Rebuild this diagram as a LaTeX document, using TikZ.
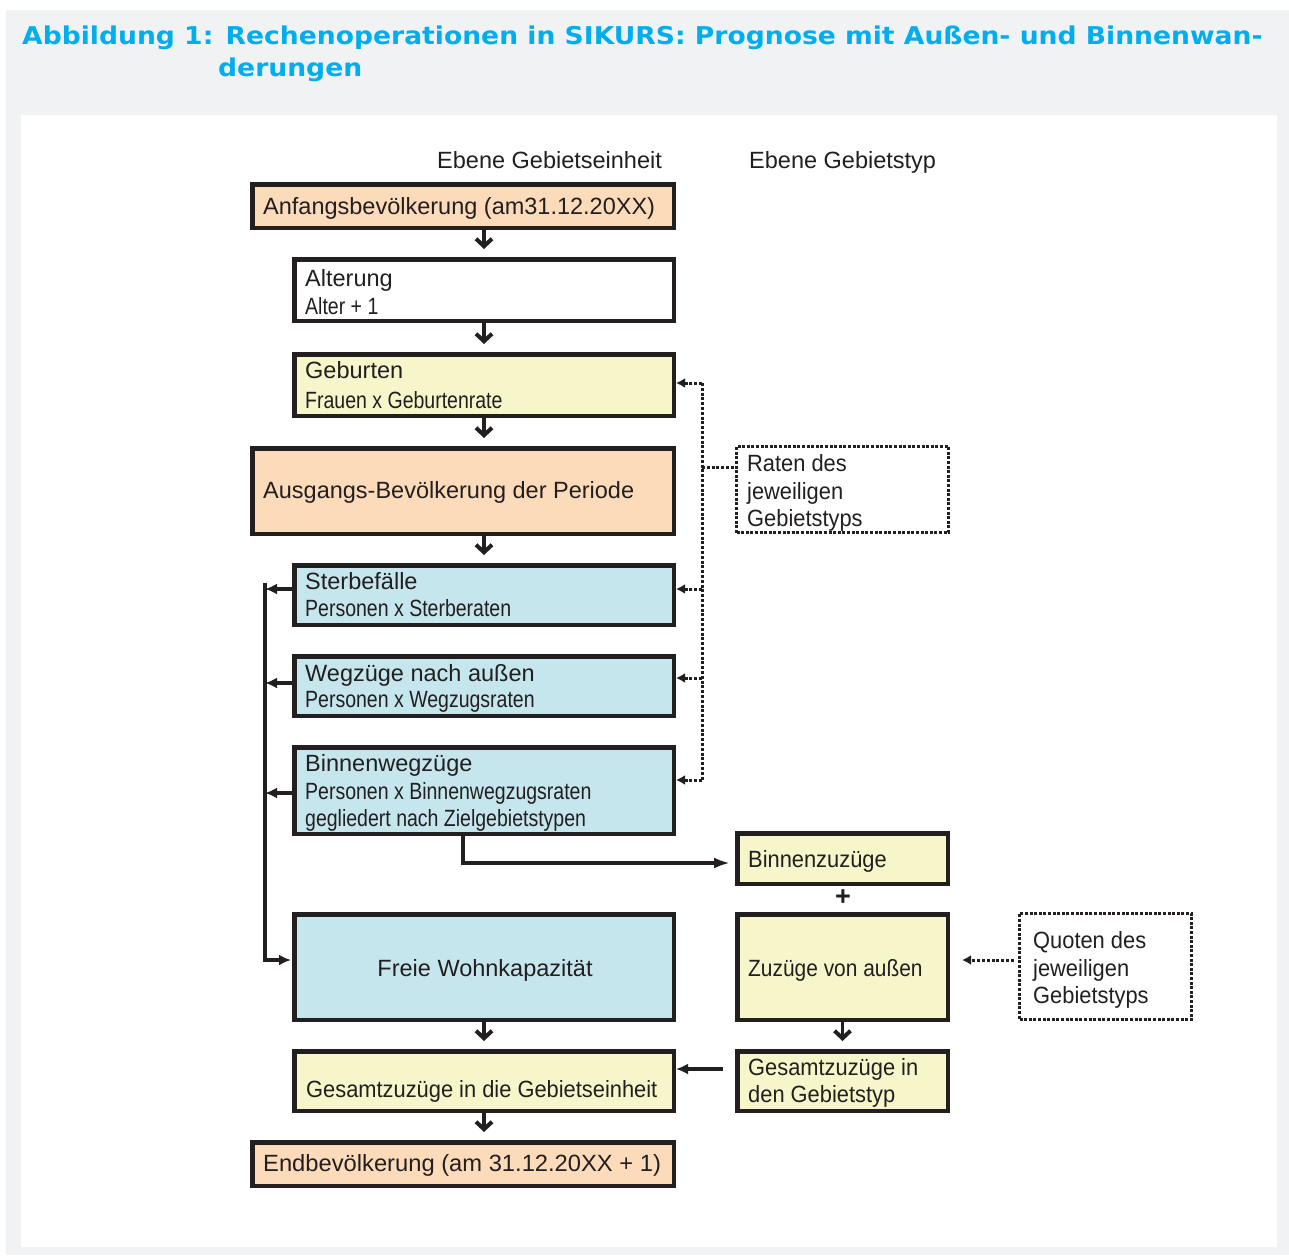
\documentclass[tikz,border=0pt]{standalone}
\usepackage{fontspec}
\usepackage{graphicx}
\setmainfont{Liberation Sans}
\newfontfamily\titlefont{DejaVu Sans}[FakeStretch=1.085]
\usetikzlibrary{arrows.meta}
\definecolor{ink}{RGB}{35,31,32}
\definecolor{peach}{RGB}{252,219,186}
\definecolor{paleyellow}{RGB}{247,246,203}
\definecolor{paleblue}{RGB}{196,230,236}
\definecolor{titlecyan}{RGB}{0,174,239}
\definecolor{panelgray}{RGB}{241,242,244}
\newcommand{\subtxt}[1]{\scalebox{0.83}[1]{#1}}
\newcommand{\cond}[1]{\scalebox{0.93}[1]{#1}}
\tikzset{
  box/.style={draw=ink, line width=4.5pt, rectangle, inner sep=0pt},
  dbox/.style={draw=ink, line width=3.5pt, rectangle, inner sep=0pt, dash pattern=on 3pt off 1.6pt, fill=white},
  txt/.style={anchor=base west, inner sep=0pt, text=ink, font=\fontsize{23.5}{28}\selectfont},
  ctxt/.style={anchor=base, inner sep=0pt, text=ink, font=\fontsize{23.5}{28}\selectfont},
  ttl/.style={anchor=base west, inner sep=0pt, text=titlecyan, font=\titlefont\bfseries\fontsize{24.5}{30}\selectfont},
  varrow/.style={draw=ink, line width=3.5pt, -{Straight Barb[length=7.5pt,width=16pt,line width=4pt]}, shorten >=8pt},
  sarrow/.style={draw=ink, line width=3.2pt, -{Latex[length=12pt,width=11pt]}},
  sline/.style={draw=ink, line width=3.2pt},
  dline/.style={draw=ink, line width=3pt, dash pattern=on 3pt off 1.8pt},
  darrow/.style={dline, -{Latex[length=9pt,width=10pt]}}
}
\begin{document}
\begin{tikzpicture}[x=1pt,y=-1pt]
\useasboundingbox (0,0) rectangle (1289,1255);
\fill[panelgray] (6,10) rectangle (1289,1255);
\fill[white] (21,115) rectangle (1277,1247);

% title
\node[ttl] (title1) at (22,45) {Abbildung 1: Rechenoperationen in SIKURS: Prognose mit Außen- und Binnenwan-};
\node[ttl] (title2) at (218,77) {derungen};

% column headings
\node[txt] (h1) at (437,168) {Ebene Gebietseinheit};
\node[txt] (h2) at (749,168) {Ebene Gebietstyp};

% left column boxes
\node[box, fill=peach, minimum width=421.5pt, minimum height=43.5pt] (anf) at (463,206) {};
\node[box, fill=white, minimum width=379.5pt, minimum height=61.5pt] (alt) at (484,290) {};
\node[box, fill=paleyellow, minimum width=379.5pt, minimum height=61.5pt] (geb) at (484,385) {};
\node[box, fill=peach, minimum width=421.5pt, minimum height=85.5pt] (aus) at (463,491) {};
\node[box, fill=paleblue, minimum width=379.5pt, minimum height=59.5pt] (ster) at (484,595) {};
\node[box, fill=paleblue, minimum width=379.5pt, minimum height=59.5pt] (weg) at (484,686) {};
\node[box, fill=paleblue, minimum width=379.5pt, minimum height=86.5pt] (binw) at (484,790.5) {};
\node[box, fill=paleblue, minimum width=379.5pt, minimum height=105.5pt] (frei) at (484,967) {};
\node[box, fill=paleyellow, minimum width=379.5pt, minimum height=59.5pt] (gese) at (484,1081) {};
\node[box, fill=peach, minimum width=421.5pt, minimum height=43.5pt] (endb) at (463,1164) {};

% right column boxes
\node[dbox, minimum width=212pt, minimum height=86pt] (raten) at (842.5,489.5) {};
\node[box, fill=paleyellow, minimum width=210.5pt, minimum height=50.5pt] (binz) at (842.5,858.5) {};
\node[box, fill=paleyellow, minimum width=210.5pt, minimum height=105.5pt] (zuz) at (842.5,967) {};
\node[box, fill=paleyellow, minimum width=210.5pt, minimum height=59.5pt] (gest) at (842.5,1081) {};
\node[dbox, minimum width=172pt, minimum height=106pt] (quot) at (1105.5,966.5) {};

% texts
\node[txt] (anf-t) at (263,214) {Anfangsbevölkerung (am31.12.20XX)};
\node[txt] (alt-t) at (305,286) {Alterung};
\node[txt] (alt-s) at (305,314) {\subtxt{Alter + 1}};
\node[txt] (geb-t) at (305,378) {Geburten};
\node[txt] (geb-s) at (305,408) {\subtxt{Frauen x Geburtenrate}};
\node[txt] (aus-t) at (263,498) {Ausgangs-Bevölkerung der Periode};
\node[txt] (ster-t) at (305,589) {Sterbefälle};
\node[txt] (ster-s) at (305,616) {\subtxt{Personen x Sterberaten}};
\node[txt] (weg-t) at (305,681) {Wegzüge nach außen};
\node[txt] (weg-s) at (305,707) {\subtxt{Personen x Wegzugsraten}};
\node[txt] (binw-t) at (305,771) {Binnenwegzüge};
\node[txt] (binw-s) at (305,799) {\subtxt{Personen x Binnenwegzugsraten}};
\node[txt] (binw-u) at (305,826) {\subtxt{gegliedert nach Zielgebietstypen}};
\node[ctxt] (frei-t) at (485,976) {Freie Wohnkapazität};
\node[txt] (gese-t) at (306,1097) {\cond{Gesamtzuzüge in die Gebietseinheit}};
\node[txt] (endb-t) at (263,1171) {\scalebox{1.01}[1]{Endbevölkerung (am 31.12.20XX + 1)}};

\node[txt] (raten-1) at (747,471) {\cond{Raten des}};
\node[txt] (raten-2) at (747,499) {\cond{jeweiligen}};
\node[txt] (raten-3) at (747,526) {\cond{Gebietstyps}};
\node[txt] (binz-t) at (748,867) {\cond{Binnenzuzüge}};
\node[inner sep=0pt, text=ink, font=\bfseries\fontsize{27}{30}\selectfont] (plus) at (843,898) {+};
\node[txt] (zuz-t) at (748,976) {\scalebox{0.89}[1]{Zuzüge von außen}};
\node[txt] (gest-1) at (748,1075) {\cond{Gesamtzuzüge in}};
\node[txt] (gest-2) at (748,1102) {\cond{den Gebietstyp}};
\node[txt] (quot-1) at (1033,948) {\cond{Quoten des}};
\node[txt] (quot-2) at (1033,976) {\cond{jeweiligen}};
\node[txt] (quot-3) at (1033,1003) {\cond{Gebietstyps}};

% vertical flow arrows
\draw[varrow] (alt.north |- anf.south) -- (alt.north);
\draw[varrow] (alt.south) -- (geb.north);
\draw[varrow] (geb.south) -- (geb.south |- aus.north);
\draw[varrow] (ster.north |- aus.south) -- (ster.north);
\draw[varrow] (frei.south) -- (gese.north);
\draw[varrow] (gese.south) -- (gese.south |- endb.north);
\draw[varrow] (zuz.south) -- (gest.north);

% left collector line
\coordinate (vtop) at (265,583);
\coordinate (s1) at ([yshift=6pt]ster.west);
\coordinate (s2) at ([yshift=3pt]weg.west);
\coordinate (s3) at ([yshift=-2.5pt]binw.west);
\coordinate (f1) at ([yshift=7pt]frei.west);
\draw[sarrow] (s1) -- (s1 -| vtop);
\draw[sarrow] (s2) -- (s2 -| vtop);
\draw[sarrow] (s3) -- (s3 -| vtop);
\draw[sarrow, shorten >=1pt] (vtop) |- (f1);

% Binnenwegzuege -> Binnenzuzuege
\coordinate (b1) at ([xshift=-21pt]binw.south);
\coordinate (b2) at ([yshift=-4.5pt]binz.west);
\draw[sarrow, -{Latex[length=16pt,width=11pt]}, shorten >=5pt] (b1) |- (b2);

% Gesamtzuzuege Gebietstyp -> Gebietseinheit
\coordinate (g2) at ([yshift=12pt]gest.west);
\draw[sarrow, shorten <=12pt] (g2) -- (g2 -| gese.east);

% dotted rates connectors
\coordinate (dtop) at (702,383);
\coordinate (dbot) at (702,780);
\draw[dline] (dtop) -- (dbot);
\coordinate (r1) at ([yshift=2pt]geb.east);
\coordinate (r2) at ([yshift=6pt]ster.east);
\coordinate (r3) at ([yshift=8pt]weg.east);
\coordinate (r4) at ([yshift=10.5pt]binw.east);
\coordinate (r5) at ([yshift=22.5pt]raten.west);
\draw[darrow] (r1 -| dtop) -- (r1);
\draw[darrow] (r2 -| dtop) -- (r2);
\draw[darrow] (r3 -| dtop) -- (r3);
\draw[darrow] (r4 -| dtop) -- (r4);
\draw[dline] (r5 -| dtop) -- (r5);

% quoten arrow
\coordinate (q1) at ([yshift=6.5pt]quot.west);
\draw[darrow, shorten <=4pt, shorten >=12pt] (q1) -- (q1 -| zuz.east);
\end{tikzpicture}
\end{document}
